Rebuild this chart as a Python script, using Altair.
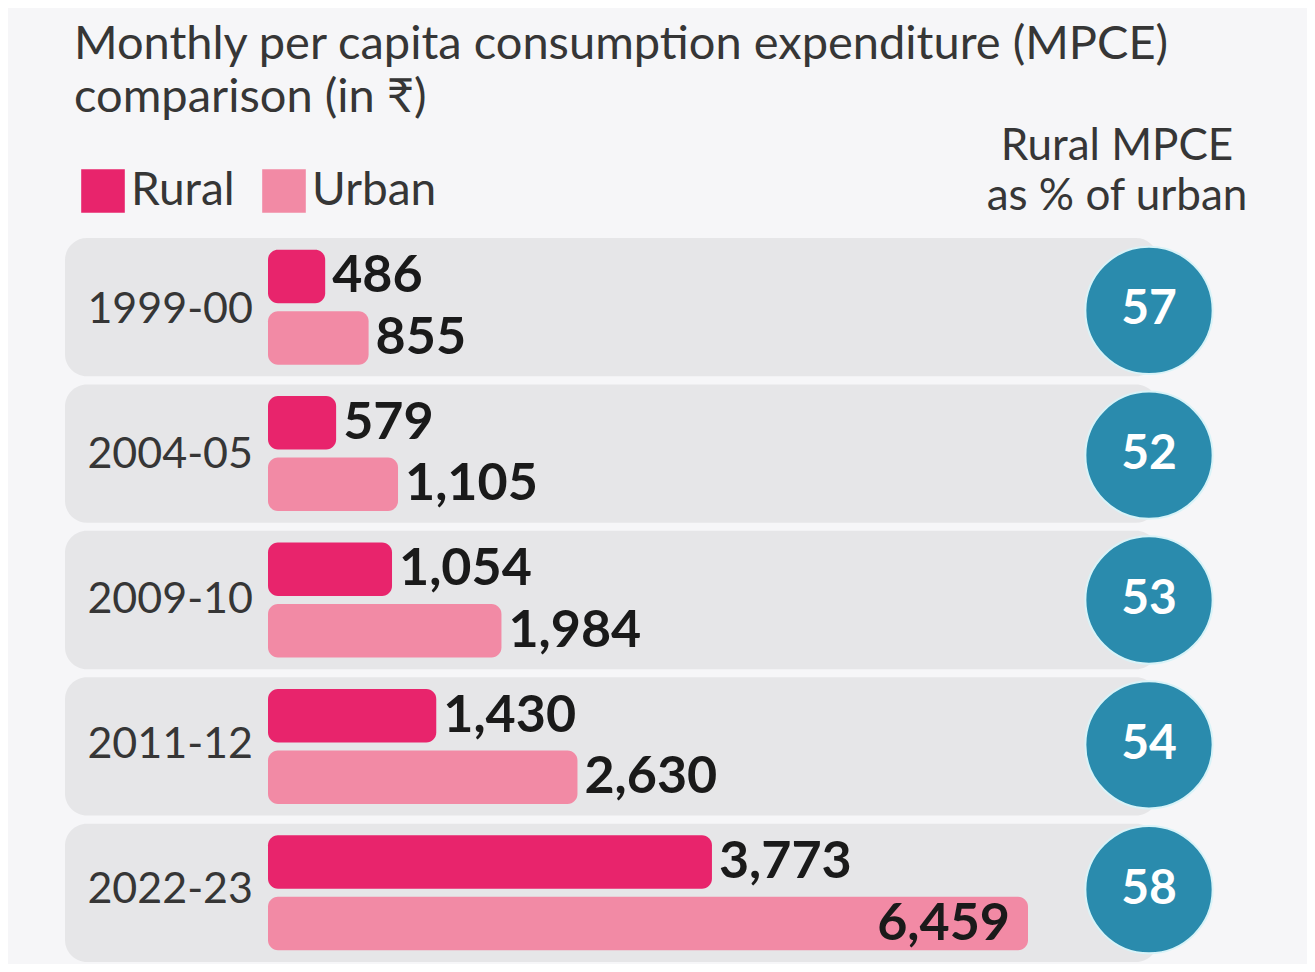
import altair as alt
import pandas as pd

years = ["1999-00", "2004-05", "2009-10", "2011-12", "2022-23"]
rural = [486, 579, 1054, 1430, 3773]
urban = [855, 1105, 1984, 2630, 6459]
ratio = [57, 52, 53, 54, 58]
series = ["Rural", "Urban"]
colors = ["#e8246c", "#f28aa5"]

title_lines = ["Monthly per capita consumption expenditure (MPCE)", "comparison (in ₹)"]
ratio_header = ["Rural MPCE", "as % of urban"]

FONT = "Lato"
TXT = "#363636"

rows = []
for y, r, u in zip(years, rural, urban):
    rows.append({"year": y, "series": "Rural", "value": r})
    rows.append({"year": y, "series": "Urban", "value": u})
bars_df = pd.DataFrame(rows)
vmax = bars_df["value"].max()
bars_df["label"] = bars_df["value"].map(lambda v: f"{v:,}")
bars_df["inside"] = bars_df["value"] == vmax

rows_df = pd.DataFrame({"year": years, "ratio": ratio})
legend_df = pd.DataFrame({"series": series})

W, H = 1299, 956

yscale = alt.Scale(domain=years, range=[230, 954], paddingInner=0.055, paddingOuter=0)
xscale = alt.Scale(domain=[0, int(vmax)], range=[260, 1020])
color_scale = alt.Scale(domain=series, range=colors)
yoff_scale = alt.Scale(domain=series, paddingInner=0.13, paddingOuter=0.19)

Y = alt.Y("year:N", scale=yscale, axis=None)

row_bg = alt.Chart(rows_df).mark_bar(cornerRadius=22, color="#e6e6e8").encode(
    y=Y, x=alt.value(57), x2=alt.value(1150)
)

bars = alt.Chart(bars_df).mark_bar(cornerRadius=10).encode(
    y=Y,
    yOffset=alt.YOffset("series:N", scale=yoff_scale),
    x=alt.X("value:Q", scale=xscale, axis=None),
    x2=alt.datum(0),
    color=alt.Color("series:N", scale=color_scale, legend=None),
)

labels_out = alt.Chart(bars_df).transform_filter("!datum.inside").mark_text(
    align="left", baseline="middle", dx=7, font=FONT, fontWeight="bold", fontSize=52, color="#1a1a1a"
).encode(
    y=Y,
    yOffset=alt.YOffset("series:N", scale=yoff_scale),
    x=alt.X("value:Q", scale=xscale, axis=None),
    text="label:N",
)

labels_in = alt.Chart(bars_df).transform_filter("datum.inside").mark_text(
    align="right", baseline="middle", dx=-18, font=FONT, fontWeight="bold", fontSize=52, color="#1a1a1a"
).encode(
    y=Y,
    yOffset=alt.YOffset("series:N", scale=yoff_scale),
    x=alt.X("value:Q", scale=xscale, axis=None),
    text="label:N",
)

year_labels = alt.Chart(rows_df).mark_text(
    align="right", baseline="middle", font=FONT, fontSize=43, color=TXT
).encode(y=Y, x=alt.value(245), text="year:N")

circles = alt.Chart(rows_df).mark_circle(
    size=16200, color="#2a8bad", opacity=1, stroke="#d8f3f8", strokeWidth=2
).encode(y=Y, x=alt.value(1141))

circle_text = alt.Chart(rows_df).mark_text(
    align="center", baseline="middle", font=FONT, fontWeight="bold", fontSize=48, color="white"
).encode(y=Y, x=alt.value(1141), text="ratio:Q")

title_df = pd.DataFrame({"t": title_lines, "i": [0, 1]})
title = alt.Chart(title_df).mark_text(
    align="left", baseline="middle", font=FONT, fontSize=47, color=TXT
).encode(
    x=alt.value(66),
    y=alt.Y("i:O", scale=alt.Scale(range=[37, 90], padding=0), axis=None),
    text="t:N",
)

hdr_df = pd.DataFrame({"t": ratio_header, "i": [0, 1]})
header = alt.Chart(hdr_df).mark_text(
    align="center", baseline="middle", font=FONT, fontSize=44, color=TXT
).encode(
    x=alt.value(1109),
    y=alt.Y("i:O", scale=alt.Scale(range=[139, 189], padding=0), axis=None),
    text="t:N",
)

leg_x = alt.X("series:N", scale=alt.Scale(domain=series, range=[95, 276], padding=0), axis=None)
legend_sq = alt.Chart(legend_df).mark_square(size=1900, opacity=1).encode(
    x=leg_x, y=alt.value(183),
    color=alt.Color("series:N", scale=color_scale, legend=None),
)
legend_tx = alt.Chart(legend_df).mark_text(
    align="left", baseline="middle", dx=28, font=FONT, fontSize=46, color=TXT
).encode(x=leg_x, y=alt.value(183), text="series:N")

chart = alt.layer(
    row_bg, bars, labels_out, labels_in, year_labels, circles, circle_text,
    title, header, legend_sq, legend_tx
).resolve_scale(y="independent", x="independent", yOffset="shared").properties(
    width=W, height=H, padding=0, background="#f6f6f8"
).configure_view(stroke=None)

chart.save("out.html", embed_options={"renderer": "svg", "actions": False})
